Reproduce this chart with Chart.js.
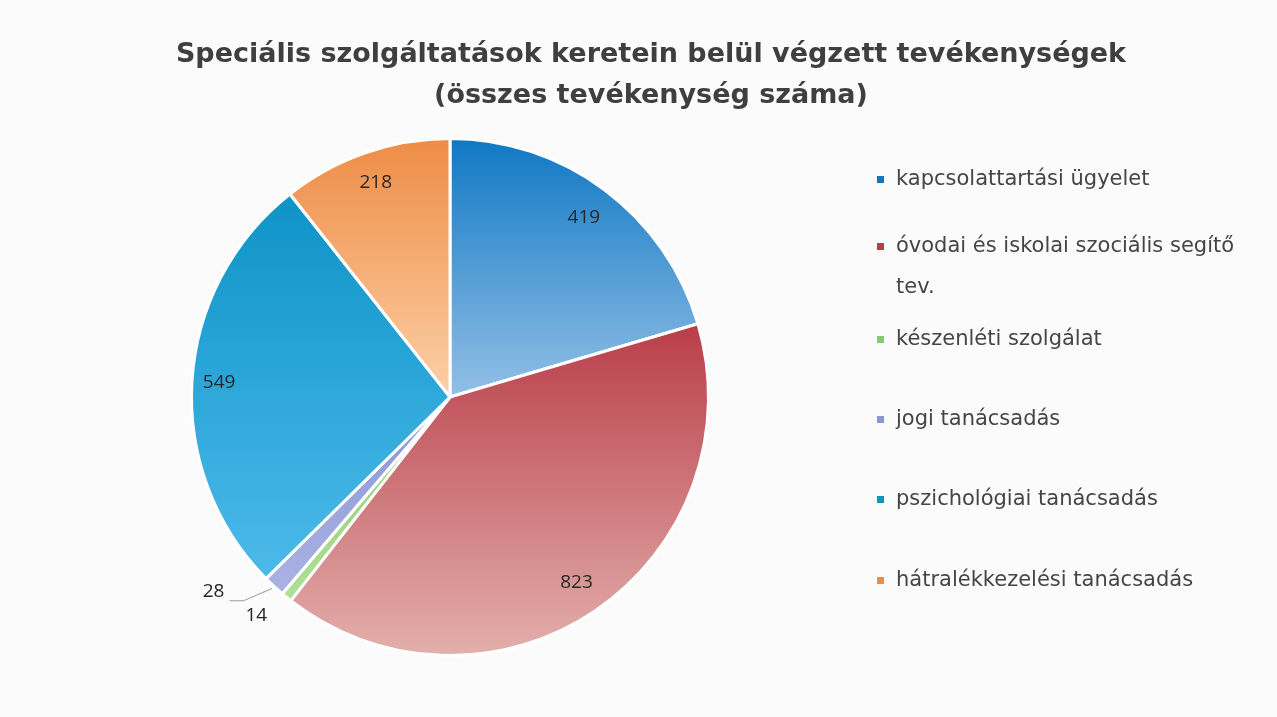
<!DOCTYPE html>
<html lang="hu">
<head>
<meta charset="utf-8">
<title>Speciális szolgáltatások</title>
<script src="https://cdn.jsdelivr.net/npm/chart.js@4/dist/chart.umd.min.js"></script>
<style>
  html, body { margin: 0; padding: 0; background: #fbfbfb; }
  #wrap { width: 1277px; height: 717px; }
</style>
</head>
<body>
<div id="wrap"><canvas id="pie" width="1277" height="717"></canvas></div>
<script>
// adatok
const titleLines = ["Speciális szolgáltatások keretein belül végzett tevékenységek", "(összes tevékenység száma)"];
const categories = [
    ["kapcsolattartási ügyelet"],
    ["óvodai és iskolai szociális segítő", "tev."],
    ["készenléti szolgálat"],
    ["jogi tanácsadás"],
    ["pszichológiai tanácsadás"],
    ["hátralékkezelési tanácsadás"]
];
const activityCounts = [419, 823, 14, 28, 549, 218];

// színek (felül sötétebb, alul világosabb)
const topColors = ["#0f78c4", "#b93d49", "#86cc6c", "#8a96d6", "#0e93c7", "#ee8c45"];
const bottomColors = ["#93bfe7", "#e3b0ac", "#b0e096", "#aab3e3", "#4cbaea", "#fcd0a6"];
const textColor = "#3f3f3f";

// jelmagyarázat sorainak helye
const legendRowY = [180, 247, 340, 420, 500, 581];

// szelet kitöltése függőleges színátmenettel
function sliceFill(c) {
    const chart = c.chart;
    const a = chart.chartArea;
    const i = c.dataIndex;
    if (!a) return topColors[i];
    const cx = (a.left + a.right) / 2, cy = (a.top + a.bottom) / 2;
    const r = Math.min(a.right - a.left, a.bottom - a.top) / 2;
    const data = c.dataset.data;
    const total = data.reduce((s, v) => s + v, 0);
    let before = 0;
    for (let j = 0; j < i; j++) before += data[j];
    const a0 = -Math.PI / 2 + before / total * Math.PI * 2;
    const a1 = a0 + data[i] / total * Math.PI * 2;
    const ys = [cy, cy + r * Math.sin(a0), cy + r * Math.sin(a1)];
    [-Math.PI / 2, Math.PI / 2, Math.PI * 1.5].forEach((t) => {
        if (t > a0 && t < a1) ys.push(cy + r * Math.sin(t));
    });
    const g = chart.ctx.createLinearGradient(0, Math.min(...ys), 0, Math.max(...ys));
    g.addColorStop(0, topColors[i]);
    g.addColorStop(1, bottomColors[i]);
    return g;
}

// címkék helye: sugár aránya és szögeltolás (fok)
const labelPlace = [
    { r: 0.865, da: 0 },
    { r: 0.87, da: 0 },
    { r: 1.13, da: 2.3 },
    { r: 1.185, da: 7.6, leader: true },
    { r: 0.895, da: 0 },
    { r: 0.877, da: 0 }
];

const decorPlugin = {
    id: "decor",
    afterDraw(chart) {
        const ctx = chart.ctx;
        const arcs = chart.getDatasetMeta(0).data;
        ctx.save();

        // cím
        ctx.fillStyle = textColor;
        ctx.textAlign = "center";
        ctx.textBaseline = "middle";
        ctx.font = "bold 27px 'DejaVu Sans'";
        ctx.fillText(titleLines[0], 651, 55);
        ctx.fillText(titleLines[1], 651, 96);

        // értékek a szeleteken
        ctx.font = "19px 'Open Sans'";
        ctx.fillStyle = "#262626";
        arcs.forEach((arc, i) => {
            const p = labelPlace[i];
            const mid = (arc.startAngle + arc.endAngle) / 2;
            const ang = mid + p.da * Math.PI / 180;
            const lx = arc.x + Math.cos(ang) * arc.outerRadius * p.r;
            const ly = arc.y + Math.sin(ang) * arc.outerRadius * p.r;
            ctx.fillText(String(activityCounts[i]), lx, ly);
            if (p.leader) {
                ctx.strokeStyle = "#9a9a9a";
                ctx.lineWidth = 1;
                ctx.beginPath();
                ctx.moveTo(arc.x + Math.cos(mid) * (arc.outerRadius + 3), arc.y + Math.sin(mid) * (arc.outerRadius + 3));
                ctx.lineTo(lx + 30, ly + 9);
                ctx.lineTo(lx + 16, ly + 9);
                ctx.stroke();
            }
        });

        // jelmagyarázat
        ctx.textAlign = "left";
        ctx.font = "21px 'DejaVu Sans'";
        const lineH = 41;
        categories.forEach((lines, i) => {
            const y = legendRowY[i];
            ctx.fillStyle = topColors[i];
            ctx.fillRect(877, y - 4, 7, 7);
            ctx.fillStyle = "#454545";
            lines.forEach((t, k) => ctx.fillText(t, 896, y + k * lineH));
        });
        ctx.restore();
    }
};

new Chart(document.getElementById("pie"), {
    type: "pie",
    data: {
        labels: categories.map((l) => l.join(" ")),
        datasets: [{
            data: activityCounts,
            backgroundColor: sliceFill,
            borderColor: "#ffffff",
            borderWidth: 3
        }]
    },
    options: {
        responsive: false,
        animation: false,
        layout: { padding: { left: 190, right: 567, top: 137, bottom: 60 } },
        plugins: {
            legend: { display: false },
            title: { display: false },
            tooltip: { enabled: false }
        }
    },
    plugins: [decorPlugin]
});
</script>
</body>
</html>
